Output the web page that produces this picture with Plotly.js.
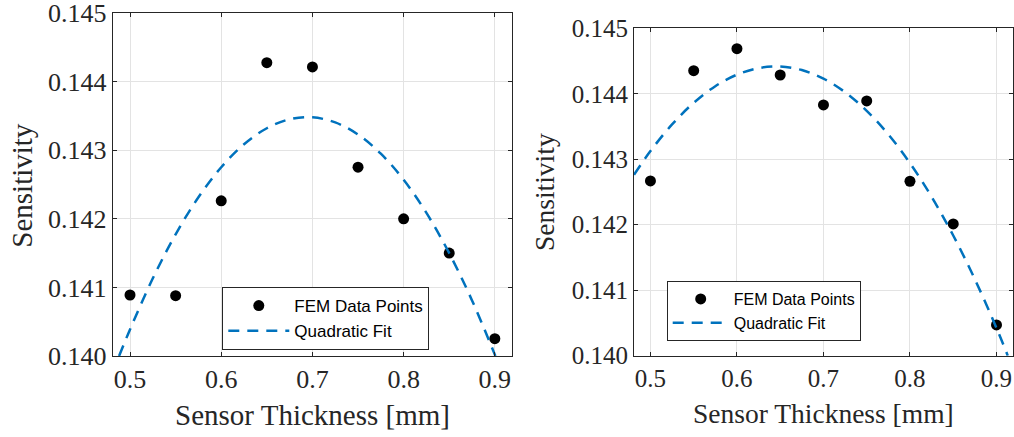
<!DOCTYPE html>
<html><head><meta charset="utf-8">
<script src="https://cdn.plot.ly/plotly-3.0.1.min.js"></script>
<style>html,body{margin:0;padding:0;background:#fff}#chart{width:1014px;height:437px}</style>
</head><body><div id="chart"></div>
<script>
// Data
const thickness = [0.50, 0.55, 0.60, 0.65, 0.70, 0.75, 0.80, 0.85, 0.90];
const sensitivityLeft  = [0.14089, 0.14088, 0.142264, 0.14428, 0.144217, 0.142755, 0.142001, 0.141501, 0.140252];
const sensitivityRight = [0.142669, 0.144353, 0.144689, 0.144287, 0.143829, 0.14389, 0.142664, 0.142012, 0.14047];

// Quadratic fit curves, sampled along the dashed line in the picture
const fitXLeft  = [0.488, 0.500, 0.525, 0.550, 0.575, 0.600, 0.625, 0.650, 0.675, 0.700, 0.725, 0.750, 0.775, 0.800, 0.825, 0.850, 0.875, 0.900, 0.9006];
const fitYLeft  = [0.14000, 0.140387, 0.141133, 0.141776, 0.142316, 0.142754, 0.143090, 0.143323, 0.143454, 0.143482, 0.143408, 0.143231, 0.142952, 0.142571, 0.142087, 0.141500, 0.140811, 0.140020, 0.14000];
const fitXRight = [0.481, 0.500, 0.525, 0.550, 0.575, 0.600, 0.625, 0.650, 0.675, 0.700, 0.725, 0.750, 0.775, 0.800, 0.825, 0.850, 0.875, 0.900, 0.913];
const fitYRight = [0.142764, 0.143125, 0.143532, 0.143862, 0.144116, 0.144292, 0.144392, 0.144415, 0.144362, 0.144231, 0.144024, 0.143740, 0.143379, 0.142941, 0.142427, 0.141835, 0.141167, 0.140422, 0.14000];

const xTicks = [0.5, 0.6, 0.7, 0.8, 0.9];
const yTicks = [0.140, 0.141, 0.142, 0.143, 0.144, 0.145];
const xLabel = 'Sensor Thickness [mm]';
const yLabel = 'Sensitivity';
const pointsName = 'FEM Data Points';
const fitName = 'Quadratic Fit';

const ink = '#262626';
const blue = '#0072BD';
const serif = 'Liberation Serif, Times New Roman, serif';
const sans = 'Liberation Sans, Arial, sans-serif';

function mkTraces(xa, ya, yPts, fx, fy, leg) {
  return [
    {x: thickness, y: yPts, xaxis: xa, yaxis: ya, type: 'scatter', mode: 'markers',
     name: pointsName, legend: leg, marker: {color: '#000', size: 11}},
    {x: fx, y: fy, xaxis: xa, yaxis: ya, type: 'scatter', mode: 'lines', line: {shape: 'spline', color: blue, width: 2.5, dash: '11px,8px'},
     name: fitName, legend: leg}
  ];
}
const traces = [].concat(
  mkTraces('x', 'y', sensitivityLeft, fitXLeft, fitYLeft, 'legend'),
  mkTraces('x2', 'y2', sensitivityRight, fitXRight, fitYRight, 'legend2')
);

function xax(dom, anchor, fs) {
  return {domain: dom, anchor: anchor, range: [0.481, 0.9185], tickvals: xTicks, tickformat: '.1f',
    showgrid: true, gridcolor: '#e3e3e3', zeroline: false, showline: true, linecolor: ink, linewidth: 1,
    mirror: 'ticks', ticks: 'inside', ticklen: 4, tickcolor: ink, ticklabeloverflow: 'allow',
    tickfont: {family: serif, size: fs, color: ink}};
}
function yax(dom, anchor, fs) {
  return {domain: dom, anchor: anchor, range: [0.140, 0.145], tickvals: yTicks, tickformat: '.3f',
    showgrid: true, gridcolor: '#e3e3e3', zeroline: false, showline: true, linecolor: ink, linewidth: 1,
    mirror: 'ticks', ticks: 'inside', ticklen: 4, tickcolor: ink, ticklabeloverflow: 'allow',
    tickfont: {family: serif, size: fs, color: ink}};
}

const W = 1014, H = 437;
const layout = {
  width: W, height: H, margin: {l: 0, r: 0, t: 0, b: 0},
  paper_bgcolor: '#fff', plot_bgcolor: '#fff', showlegend: true,
  xaxis: xax([112.7 / W, 511.7 / W], 'y', 26),
  yaxis: yax([1 - 356 / H, 1 - 13.3 / H], 'x', 26),
  xaxis2: xax([634 / W, 1012.5 / W], 'y2', 25),
  yaxis2: yax([1 - 355.7 / H, 1 - 28.3 / H], 'x2', 25),
  legend: {x: 222.3 / W, y: 1 - 287 / H, xanchor: 'left', yanchor: 'top', bgcolor: '#fff',
    bordercolor: ink, borderwidth: 1, font: {family: sans, size: 17, color: '#000'}, itemwidth: 61},
  legend2: {x: 666.7 / W, y: 1 - 281 / H, xanchor: 'left', yanchor: 'top', bgcolor: '#fff',
    bordercolor: ink, borderwidth: 1, font: {family: sans, size: 16, color: '#000'}, itemwidth: 56},
  annotations: [
    {text: xLabel, xref: 'paper', yref: 'paper', x: 312.3 / W, y: 1 - 415 / H, showarrow: false,
     xanchor: 'center', yanchor: 'middle', font: {family: serif, size: 29, color: ink}},
    {text: yLabel, xref: 'paper', yref: 'paper', x: 21.7 / W, y: 1 - 185 / H, showarrow: false, textangle: -90,
     xanchor: 'center', yanchor: 'middle', font: {family: serif, size: 29, color: ink}},
    {text: xLabel, xref: 'paper', yref: 'paper', x: 823 / W, y: 1 - 413 / H, showarrow: false,
     xanchor: 'center', yanchor: 'middle', font: {family: serif, size: 27.5, color: ink}},
    {text: yLabel, xref: 'paper', yref: 'paper', x: 545 / W, y: 1 - 192 / H, showarrow: false, textangle: -90,
     xanchor: 'center', yanchor: 'middle', font: {family: serif, size: 27.5, color: ink}}
  ]
};
Plotly.newPlot('chart', traces, layout, {displayModeBar: false, staticPlot: true});
</script></body></html>
